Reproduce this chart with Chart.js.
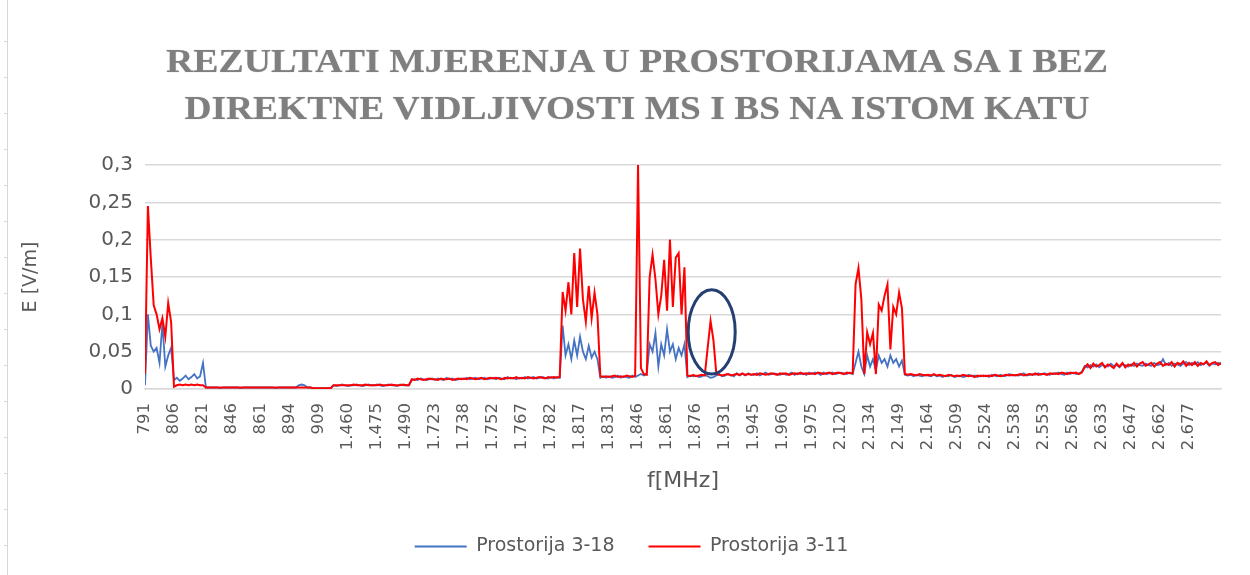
<!DOCTYPE html>
<html>
<head>
<meta charset="utf-8">
<title>Rezultati mjerenja</title>
<script src="https://cdn.jsdelivr.net/npm/chart.js@4.4.1/dist/chart.umd.min.js"></script>
<style>
  html, body { margin: 0; padding: 0; background: #fff; }
  #wrap { position: relative; width: 1250px; height: 575px; overflow: hidden; }
  #frame { position: absolute; left: 7px; top: 0; width: 1px; height: 575px; background: #d9d9d9; }
  #ruler { position: absolute; left: 4px; top: 0; width: 3px; height: 575px;
           background: repeating-linear-gradient(to bottom, transparent 0 34.8px, #d9d9d9 34.8px 36px);
           background-position: 0 6px; }
  #title { position: absolute; left: 0; top: 38px; width: 1274px; text-align: center;
           font: bold 33px "Liberation Serif", serif; color: #7f7f7f; line-height: 46.5px;
           text-shadow: 0 0 1px rgba(90, 90, 90, 0.45); }
  #title span { display: inline-block; white-space: nowrap; transform-origin: 50% 50%; }
  #chart { position: absolute; left: 0; top: 0; width: 1250px; height: 575px; }
</style>
</head>
<body>
<div id="wrap">
  <div id="frame"></div>
  <div id="ruler"></div>
  <canvas id="chart" width="1250" height="575"></canvas>
  <div id="title">
    <span>REZULTATI MJERENJA U PROSTORIJAMA SA I BEZ</span><br>
    <span>DIREKTNE VIDLJIVOSTI MS I BS NA ISTOM KATU</span>
  </div>
</div>
<script>
// frequency labels shown under every 10th sample
const tickLabels = ['791', '806', '821', '846', '861', '894', '909', '1.460', '1.475', '1.490',
    '1.723', '1.738', '1.752', '1.767', '1.782', '1.817', '1.831', '1.846', '1.861', '1.876',
    '1.931', '1.945', '1.960', '1.975', '2.120', '2.134', '2.149', '2.164', '2.509', '2.524',
    '2.538', '2.553', '2.568', '2.633', '2.647', '2.662', '2.677'];
const labelStep = 10;

// E [V/m], Prostorija 3-18
const room318 = [
    0.005, 0.1, 0.058, 0.05, 0.055, 0.035, 0.088, 0.03, 0.045, 0.055,
    0.012, 0.015, 0.011, 0.014, 0.018, 0.013, 0.016, 0.02, 0.014, 0.017,
    0.035, 0.002, 0.002, 0.002, 0.002, 0.002, 0.001, 0.002, 0.002, 0.002,
    0.002, 0.002, 0.002, 0.001, 0.002, 0.002, 0.002, 0.002, 0.002, 0.002,
    0.002, 0.002, 0.002, 0.002, 0.002, 0.001, 0.002, 0.002, 0.002, 0.002,
    0.002, 0.002, 0.002, 0.005, 0.006, 0.005, 0.002, 0.002, 0.001, 0.001,
    0.001, 0.001, 0.001, 0.001, 0.001, 0.005, 0.004, 0.005, 0.006, 0.005,
    0.004, 0.005, 0.005, 0.006, 0.005, 0.004, 0.005, 0.006, 0.005, 0.005,
    0.006, 0.005, 0.004, 0.005, 0.006, 0.005, 0.005, 0.004, 0.006, 0.005,
    0.005, 0.005, 0.012, 0.013, 0.012, 0.014, 0.013, 0.012, 0.013, 0.014,
    0.012, 0.014, 0.013, 0.012, 0.015, 0.013, 0.014, 0.012, 0.013, 0.014,
    0.013, 0.015, 0.013, 0.014, 0.015, 0.013, 0.014, 0.015, 0.013, 0.014,
    0.015, 0.013, 0.015, 0.014, 0.013, 0.016, 0.014, 0.015, 0.013, 0.015,
    0.014, 0.016, 0.014, 0.015, 0.016, 0.014, 0.015, 0.016, 0.015, 0.014,
    0.016, 0.014, 0.016, 0.015, 0.085, 0.045, 0.06, 0.04, 0.065, 0.045,
    0.07, 0.05, 0.04, 0.058, 0.042, 0.05, 0.04, 0.015, 0.017, 0.015,
    0.017, 0.015, 0.016, 0.018, 0.015, 0.017, 0.016, 0.015, 0.018, 0.016,
    0.018, 0.02, 0.018, 0.02, 0.06, 0.05, 0.075, 0.03, 0.06, 0.045,
    0.08, 0.05, 0.06, 0.04, 0.055, 0.045, 0.06, 0.016, 0.018, 0.017,
    0.018, 0.016, 0.017, 0.019, 0.017, 0.015, 0.016, 0.018, 0.02, 0.017,
    0.018, 0.02, 0.019, 0.017, 0.021, 0.018, 0.02, 0.018, 0.021, 0.019,
    0.019, 0.021, 0.018, 0.02, 0.022, 0.019, 0.02, 0.021, 0.02, 0.019,
    0.021, 0.019, 0.02, 0.022, 0.019, 0.021, 0.02, 0.021, 0.019, 0.022,
    0.02, 0.022, 0.021, 0.019, 0.022, 0.02, 0.021, 0.022, 0.02, 0.021,
    0.022, 0.021, 0.02, 0.022, 0.02, 0.035, 0.05, 0.03, 0.02, 0.045,
    0.03, 0.04, 0.025, 0.045, 0.035, 0.04, 0.03, 0.045, 0.035, 0.04,
    0.03, 0.038, 0.019, 0.018, 0.019, 0.017, 0.019, 0.018, 0.017, 0.019,
    0.018, 0.017, 0.019, 0.017, 0.018, 0.016, 0.018, 0.017, 0.019, 0.016,
    0.017, 0.018, 0.016, 0.017, 0.019, 0.017, 0.018, 0.016, 0.018, 0.017,
    0.018, 0.016, 0.019, 0.018, 0.017, 0.019, 0.017, 0.018, 0.02, 0.018,
    0.019, 0.018, 0.019, 0.021, 0.018, 0.019, 0.02, 0.019, 0.021, 0.019,
    0.021, 0.02, 0.019, 0.021, 0.02, 0.022, 0.02, 0.019, 0.022, 0.02,
    0.022, 0.02, 0.021, 0.023, 0.031, 0.029, 0.032, 0.03, 0.033, 0.029,
    0.032, 0.031, 0.03, 0.034, 0.031, 0.032, 0.029, 0.033, 0.032, 0.03,
    0.033, 0.031, 0.034, 0.032, 0.031, 0.034, 0.032, 0.031, 0.035, 0.032,
    0.033, 0.04, 0.032, 0.035, 0.031, 0.034, 0.033, 0.031, 0.034, 0.036,
    0.032, 0.035, 0.033, 0.036, 0.032, 0.034, 0.035, 0.031, 0.034, 0.033,
    0.035, 0.033
];

// E [V/m], Prostorija 3-11
const room311 = [
    0.02, 0.245, 0.175, 0.112, 0.1, 0.08, 0.095, 0.07, 0.115, 0.09,
    0.003, 0.005, 0.006, 0.005, 0.006, 0.005, 0.006, 0.005, 0.006, 0.005,
    0.005, 0.002, 0.002, 0.002, 0.002, 0.002, 0.002, 0.002, 0.002, 0.002,
    0.002, 0.002, 0.002, 0.002, 0.002, 0.002, 0.002, 0.002, 0.002, 0.002,
    0.002, 0.002, 0.002, 0.002, 0.002, 0.002, 0.002, 0.002, 0.002, 0.002,
    0.002, 0.002, 0.002, 0.002, 0.002, 0.002, 0.002, 0.002, 0.001, 0.001,
    0.001, 0.001, 0.001, 0.001, 0.001, 0.005, 0.005, 0.005, 0.005, 0.005,
    0.005, 0.005, 0.006, 0.005, 0.005, 0.005, 0.006, 0.005, 0.005, 0.005,
    0.005, 0.006, 0.005, 0.005, 0.005, 0.006, 0.005, 0.005, 0.005, 0.006,
    0.005, 0.005, 0.013, 0.012, 0.014, 0.013, 0.012, 0.013, 0.014, 0.013,
    0.013, 0.012, 0.014, 0.013, 0.013, 0.014, 0.012, 0.013, 0.014, 0.013,
    0.014, 0.013, 0.015, 0.014, 0.013, 0.014, 0.015, 0.013, 0.014, 0.015,
    0.014, 0.015, 0.014, 0.013, 0.015, 0.014, 0.015, 0.014, 0.016, 0.014,
    0.015, 0.014, 0.016, 0.015, 0.014, 0.015, 0.016, 0.015, 0.014, 0.016,
    0.015, 0.016, 0.015, 0.016, 0.13, 0.105, 0.143, 0.1, 0.182, 0.11,
    0.188, 0.12, 0.09, 0.138, 0.095, 0.129, 0.1, 0.017, 0.016, 0.017,
    0.016, 0.017, 0.018, 0.016, 0.017, 0.016, 0.018, 0.017, 0.016, 0.018,
    0.3, 0.028, 0.02, 0.019, 0.15, 0.18, 0.147, 0.1, 0.125, 0.173,
    0.105, 0.2, 0.11, 0.176, 0.182, 0.1, 0.163, 0.018, 0.017, 0.019,
    0.017, 0.018, 0.019, 0.018, 0.055, 0.091, 0.065, 0.02, 0.019, 0.018,
    0.019, 0.02, 0.018, 0.019, 0.02, 0.019, 0.021, 0.019, 0.02, 0.019,
    0.02, 0.019, 0.021, 0.02, 0.019, 0.02, 0.021, 0.02, 0.019, 0.021,
    0.02, 0.021, 0.019, 0.02, 0.021, 0.02, 0.022, 0.02, 0.021, 0.02,
    0.021, 0.02, 0.022, 0.021, 0.02, 0.021, 0.022, 0.02, 0.021, 0.022,
    0.021, 0.02, 0.022, 0.021, 0.021, 0.14, 0.162, 0.12, 0.02, 0.076,
    0.06, 0.075, 0.02, 0.113, 0.105, 0.125, 0.14, 0.053, 0.11, 0.1,
    0.129, 0.108, 0.02, 0.019, 0.02, 0.019, 0.018, 0.02, 0.019, 0.018,
    0.019, 0.018, 0.02, 0.018, 0.019, 0.018, 0.017, 0.019, 0.018, 0.017,
    0.018, 0.017, 0.019, 0.018, 0.017, 0.018, 0.016, 0.018, 0.017, 0.018,
    0.017, 0.018, 0.017, 0.019, 0.018, 0.017, 0.018, 0.019, 0.018, 0.019,
    0.018, 0.019, 0.02, 0.018, 0.019, 0.02, 0.019, 0.021, 0.019, 0.02,
    0.02, 0.019, 0.021, 0.02, 0.021, 0.02, 0.022, 0.021, 0.02, 0.022,
    0.021, 0.022, 0.02, 0.022, 0.029, 0.033, 0.028, 0.034, 0.03, 0.032,
    0.035, 0.029, 0.033, 0.031, 0.028, 0.034, 0.03, 0.035, 0.029, 0.033,
    0.031, 0.035, 0.03, 0.034, 0.036, 0.031, 0.033, 0.035, 0.03, 0.034,
    0.036, 0.031, 0.034, 0.032, 0.036, 0.03, 0.035, 0.033, 0.037, 0.031,
    0.035, 0.032, 0.036, 0.031, 0.035, 0.033, 0.037, 0.032, 0.035, 0.036,
    0.032, 0.035
];

// circled bump around 1.880 MHz (sample index / field strength)
const highlight = { from: 187.3, to: 203.5, low: 0.02, high: 0.133 };

const gray = '#595959';
const sans = 'DejaVu Sans';

const toPoints = arr => arr.map((v, i) => ({ x: i, y: v }));

const ellipsePlugin = {
    id: 'ellipse',
    afterDatasetsDraw(chart) {
        const { ctx, scales: { x, y } } = chart;
        const x1 = x.getPixelForValue(highlight.from);
        const x2 = x.getPixelForValue(highlight.to);
        const y1 = y.getPixelForValue(highlight.high);
        const y2 = y.getPixelForValue(highlight.low);
        ctx.save();
        ctx.beginPath();
        ctx.ellipse((x1 + x2) / 2, (y1 + y2) / 2, (x2 - x1) / 2, (y2 - y1) / 2, 0, 0, Math.PI * 2);
        ctx.lineWidth = 3;
        ctx.strokeStyle = '#263f73';
        ctx.stroke();
        ctx.restore();
    }
};

// legend sits centred under the whole frame, not under the padded area
const legendShift = {
    id: 'legendShift',
    afterLayout(chart) {
        chart.legend.left += 21;
        chart.legend.right += 21;
    }
};

function renderChart() {
    const canvas = document.getElementById('chart');
    if (!canvas || typeof Chart === 'undefined') return;

    new Chart(canvas, {
        type: 'line',
        data: {
            datasets: [{
                label: 'Prostorija 3-18',
                data: toPoints(room318),
                borderColor: '#4472c4',
                backgroundColor: '#4472c4',
                borderWidth: 1.8,
                order: 2
            }, {
                label: 'Prostorija 3-11',
                data: toPoints(room311),
                borderColor: '#ff0000',
                backgroundColor: '#ff0000',
                borderWidth: 2,
                order: 1
            }]
        },
        options: {
            responsive: false,
            animation: false,
            devicePixelRatio: 1,
            parsing: false,
            elements: {
                point: { radius: 0 },
                line: { tension: 0 }
            },
            layout: { padding: { top: 165, right: 29, bottom: 9, left: 0 } },
            plugins: {
                tooltip: { enabled: false },
                legend: {
                    position: 'bottom',
                    reverse: true,
                    labels: {
                        usePointStyle: true,
                        pointStyle: 'line',
                        pointStyleWidth: 52,
                        padding: 34,
                        color: gray,
                        font: { family: sans, size: 19 }
                    }
                }
            },
            scales: {
                x: {
                    type: 'linear',
                    min: 0,
                    max: 371,
                    afterBuildTicks: s => {
                        s.ticks = tickLabels.map((_, j) => ({ value: j * labelStep }));
                    },
                    afterFit: s => { s.height = 114; },
                    ticks: {
                        autoSkip: false,
                        minRotation: 90,
                        maxRotation: 90,
                        padding: 14,
                        color: gray,
                        font: { family: sans, size: 16.5 },
                        callback: (v, i) => tickLabels[i]
                    },
                    grid: { display: false, drawTicks: false },
                    border: { color: '#d9d9d9', width: 1.5 },
                    title: {
                        display: true,
                        text: 'f[MHz]',
                        color: gray,
                        font: { family: sans, size: 22 },
                        padding: { top: 0, bottom: 9 }
                    }
                },
                y: {
                    min: 0,
                    max: 0.3,
                    afterFit: s => { s.width = 145; },
                    ticks: {
                        stepSize: 0.05,
                        padding: 12,
                        color: gray,
                        font: { family: sans, size: 20 },
                        callback: v => String(Math.round(v * 100) / 100).replace('.', ',')
                    },
                    grid: { color: '#d9d9d9', lineWidth: 1.5, drawTicks: false },
                    border: { display: false },
                    title: {
                        display: true,
                        text: 'E [V/m]',
                        color: gray,
                        font: { family: sans, size: 19 },
                        padding: { top: 20, bottom: 0 }
                    }
                }
            }
        },
        plugins: [ellipsePlugin, legendShift]
    });
}

function fitTitle() {
    const widths = [942, 905];
    document.querySelectorAll('#title span').forEach((el, n) => {
        const w = el.getBoundingClientRect().width;
        el.style.transform = 'scaleX(' + (widths[n] / w).toFixed(4) + ')';
    });
}

document.addEventListener('DOMContentLoaded', () => {
    renderChart();
    fitTitle();
});
</script>
</body>
</html>
